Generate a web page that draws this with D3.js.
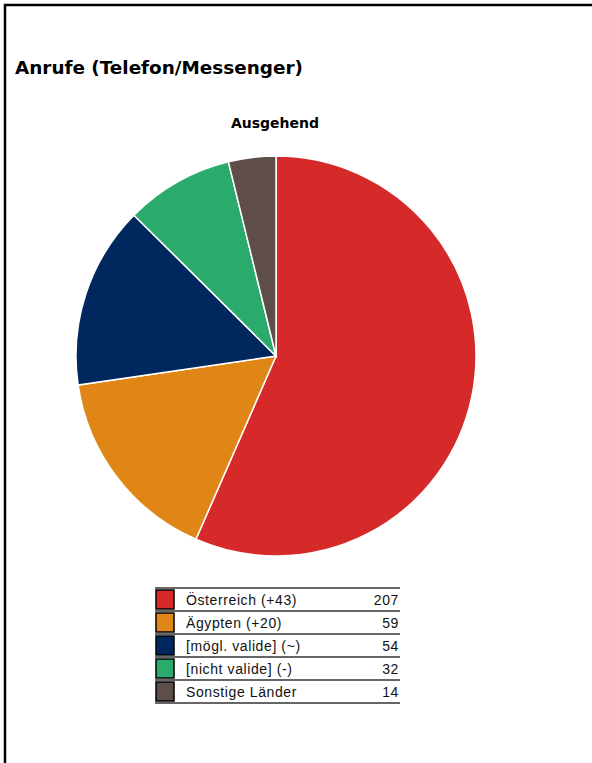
<!DOCTYPE html>
<html>
<head>
<meta charset="utf-8">
<script src="https://cdn.jsdelivr.net/npm/d3@7"></script>
<style>
  body { margin: 0; background: #fff; }
</style>
</head>
<body>
<svg id="chart"></svg>
<script>
// DATA
const labels = ["Österreich (+43)", "Ägypten (+20)", "[mögl. valide] (~)", "[nicht valide] (-)", "Sonstige Länder"];
const values = [207, 59, 54, 32, 14];
const colors = ["#d62a2a", "#e08616", "#00285e", "#2aab6c", "#5e4d49"];

const W = 592, H = 763;
const svg = d3.select("#chart").attr("width", W).attr("height", H);

// frame (top + left only)
svg.append("path")
    .attr("d", `M5,${H} L5,5 L${W},5`)
    .attr("fill", "none")
    .attr("stroke", "#000")
    .attr("stroke-width", 2.5);

// titles
svg.append("text")
    .attr("x", 15).attr("y", 74)
    .attr("font-family", "DejaVu Sans")
    .attr("font-weight", "bold")
    .attr("font-size", "18.4px")
    .text("Anrufe (Telefon/Messenger)");

svg.append("text")
    .attr("x", 275).attr("y", 128)
    .attr("text-anchor", "middle")
    .attr("font-family", "DejaVu Sans")
    .attr("font-weight", "bold")
    .attr("font-size", "14px")
    .text("Ausgehend");

// PIE
const cx = 276, cy = 356, r = 200;
const pie = d3.pie().sort(null).value(d => d.v);
const arc = d3.arc().innerRadius(0).outerRadius(r);
const data = values.map((v, i) => ({ v, c: colors[i] }));

svg.append("g")
    .attr("transform", `translate(${cx},${cy})`)
    .selectAll("path")
    .data(pie(data))
    .enter()
    .append("path")
    .attr("d", arc)
    .attr("fill", d => d.data.c)
    .attr("stroke", "#fff")
    .attr("stroke-width", 1.5);

// LEGEND
const lx = 155, lw = 245, ly = 588, rowH = 23;
const y = d3.scaleBand().domain(d3.range(labels.length)).range([ly, ly + rowH * labels.length]).padding(0);

const leg = svg.append("g");
// separator lines
leg.selectAll("line")
    .data(d3.range(labels.length + 1))
    .enter()
    .append("line")
    .attr("x1", lx).attr("x2", lx + lw)
    .attr("y1", d => ly + d * rowH).attr("y2", d => ly + d * rowH)
    .attr("stroke", "#666")
    .attr("stroke-width", 2);

const rows = leg.selectAll("g.row")
    .data(labels)
    .enter()
    .append("g")
    .attr("class", "row")
    .attr("transform", (d, i) => `translate(0,${y(i)})`);

rows.append("rect")
    .attr("x", lx + 1).attr("y", 2)
    .attr("width", 18).attr("height", 19)
    .attr("fill", (d, i) => colors[i])
    .attr("stroke", "#000")
    .attr("stroke-width", 1.5);

rows.append("text")
    .attr("x", lx + 31).attr("y", 17)
    .attr("font-family", "Liberation Sans, Arial")
    .attr("font-size", "14px")
    .attr("letter-spacing", "0.6px")
    .attr("fill", "#111")
    .text(d => d);

rows.append("text")
    .attr("x", lx + lw - 1).attr("y", 17)
    .attr("text-anchor", "end")
    .attr("font-family", "Liberation Sans, Arial")
    .attr("font-size", "14px")
    .attr("letter-spacing", "0.6px")
    .attr("fill", "#111")
    .text((d, i) => values[i]);
</script>
</body>
</html>
